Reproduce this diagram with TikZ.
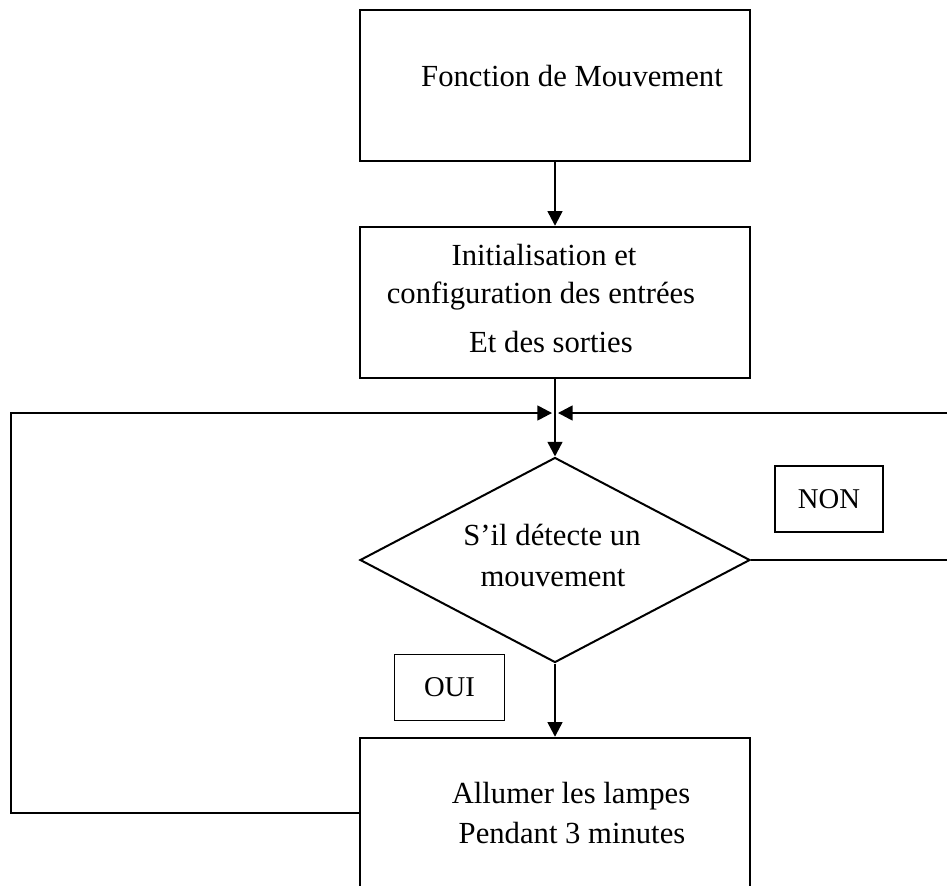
\documentclass[tikz,border=0pt]{standalone}
\usepackage{fontspec}
\setmainfont{Liberation Serif}
\usetikzlibrary{shapes.geometric,arrows.meta}

\tikzset{
  bloc/.style={draw, line width=1.8pt, minimum width=292.5pt, inner sep=0pt},
  choix/.style={draw, diamond, line width=1.5pt, inner sep=0pt,
    minimum width=292.5pt, minimum height=153.75pt},
  etiq/.style={draw, line width=0.9pt, inner sep=0pt,
    font=\fontsize{21.5}{24}\selectfont},
  texte/.style={anchor=base, inner sep=0pt, font=\fontsize{23}{27}\selectfont},
  fleche/.style={line width=1.8pt, -{Triangle[length=11pt,width=11pt]}}
}

\begin{document}
\begin{tikzpicture}[x=0.75pt,y=-0.75pt]
    \useasboundingbox (0,0) rectangle (947,886);
    \clip (0,0) rectangle (947,886);

    % Blocs
    \node[bloc, minimum height=113.25pt] (fonction) at (555,85.5) {};
    \node[bloc, minimum height=113.25pt] (init) at (555,302.5) {};
    \node[choix] (test) at (555,560) {};
    \node[bloc, minimum height=150pt] (allumer) at (555,838) {};

    % Textes
    \node[texte] (tfonction) at (572,86) {Fonction de Mouvement};
    \node[texte] (tinitA) at (544,265) {Initialisation et};
    \node[texte] (tinitB) at (541,303) {configuration des entrées};
    \node[texte] (tinitC) at (551,352) {Et des sorties};
    \node[texte] (ttestA) at (552,545) {S’il détecte un};
    \node[texte] (ttestB) at (553,586) {mouvement};
    \node[texte] (tallumerA) at (571,803) {Allumer les lampes};
    \node[texte] (tallumerB) at (572,843) {Pendant 3 minutes};

    % Etiquettes
    \node[etiq, minimum width=81pt, minimum height=49.5pt] (non) at (829,499) {NON};
    \node[etiq, minimum width=83pt, minimum height=50pt] (oui) at (449.5,687.5) {OUI};

    % Liaisons
    \coordinate (jonction) at (555,413);
    \coordinate (coinG) at (11,413);
    \coordinate (basG) at (11,813);
    \coordinate (coinD) at (960,413);
    \coordinate (basD) at (960,560);

    \draw[fleche] (fonction.south) -- (init.north);
    \draw[fleche] (init.south) -- (test.north);
    \draw[fleche] (test.south) -- (allumer.north);
    \draw[fleche] (allumer.west |- basG) -- (basG) -- (coinG) -- ([xshift=-2.2pt]jonction);
    \draw[fleche] (test.east) -- (basD) -- (coinD) -- ([xshift=2.2pt]jonction);
\end{tikzpicture}
\end{document}
